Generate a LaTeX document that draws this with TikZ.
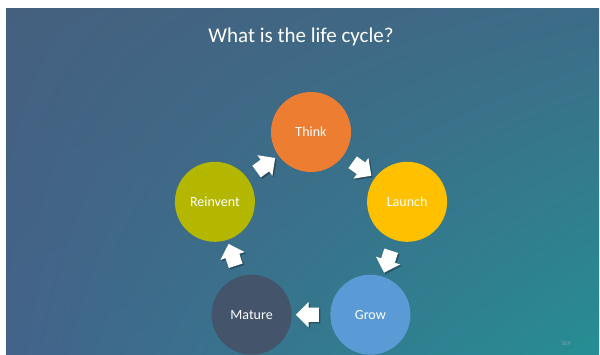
\documentclass[tikz,border=0pt]{standalone}
\usepackage{fontspec}
\setmainfont{Carlito}
\usetikzlibrary{shapes.arrows,calc,shadings}
\definecolor{thinkc}{HTML}{ED7D31}
\definecolor{launchc}{HTML}{FFC000}
\definecolor{growc}{HTML}{5B9BD5}
\definecolor{maturec}{HTML}{44546A}
\definecolor{reinventc}{HTML}{B4B700}
\definecolor{bgul}{HTML}{45607F}
\definecolor{bgur}{HTML}{3D6C88}
\definecolor{bgll}{HTML}{43638A}
\definecolor{bglr}{HTML}{268E94}
\definecolor{pagec}{HTML}{7FA3B3}
\tikzset{
  circ/.style={circle, minimum size=80pt, inner sep=0pt, text=white,
    font=\fontsize{14}{16}\selectfont},
  blockarrow/.style={single arrow, fill=white, inner xsep=0pt, inner ysep=7pt,
    text height=0pt, text depth=0pt, text width=0pt,
    minimum height=23pt, single arrow head extend=5.5pt},
  arrowshadow/.style={blockarrow, fill=black, fill opacity=0.3},
}
\begin{document}
\begin{tikzpicture}[x=1pt,y=-1pt]
\useasboundingbox (0,0) rectangle (600,354);
\fill[white] (0,0) rectangle (600,354);
\shade[upper left=bgul, upper right=bgur, lower left=bgll, lower right=bglr] (6,8) rectangle (599,354);

\node[text=white, font=\fontsize{21}{25}\selectfont] (title) at (301,37) {What is the life cycle?};

\node[circ, fill=thinkc] (think) at (311,132) {Think};
\node[circ, fill=launchc] (launch) at (407.1,201.8) {Launch};
\node[circ, fill=growc] (grow) at (370.4,314.7) {Grow};
\node[circ, fill=maturec] (mature) at (251.6,314.7) {Mature};
\node[circ, fill=reinventc] (reinvent) at (214.9,201.8) {Reinvent};

\node[arrowshadow, rotate=-36] (s1) at ($(think)!0.5!(launch)+(1.5,1.5)$) {};
\node[arrowshadow, rotate=-108] (s2) at ($(launch)!0.5!(grow)+(1.5,1.5)$) {};
\node[arrowshadow, rotate=180] (s3) at ($(grow)!0.5!(mature)+(1.5,1.5)$) {};
\node[arrowshadow, rotate=108] (s4) at ($(mature)!0.5!(reinvent)+(1.5,1.5)$) {};
\node[arrowshadow, rotate=36] (s5) at ($(reinvent)!0.5!(think)+(1.5,1.5)$) {};

\node[blockarrow, rotate=-36] (a1) at ($(think)!0.5!(launch)$) {};
\node[blockarrow, rotate=-108] (a2) at ($(launch)!0.5!(grow)$) {};
\node[blockarrow, rotate=180] (a3) at ($(grow)!0.5!(mature)$) {};
\node[blockarrow, rotate=108] (a4) at ($(mature)!0.5!(reinvent)$) {};
\node[blockarrow, rotate=36] (a5) at ($(reinvent)!0.5!(think)$) {};

\node[text=pagec, font=\fontsize{6}{7}\selectfont] (page) at (566,344) {109};
\end{tikzpicture}
\end{document}
